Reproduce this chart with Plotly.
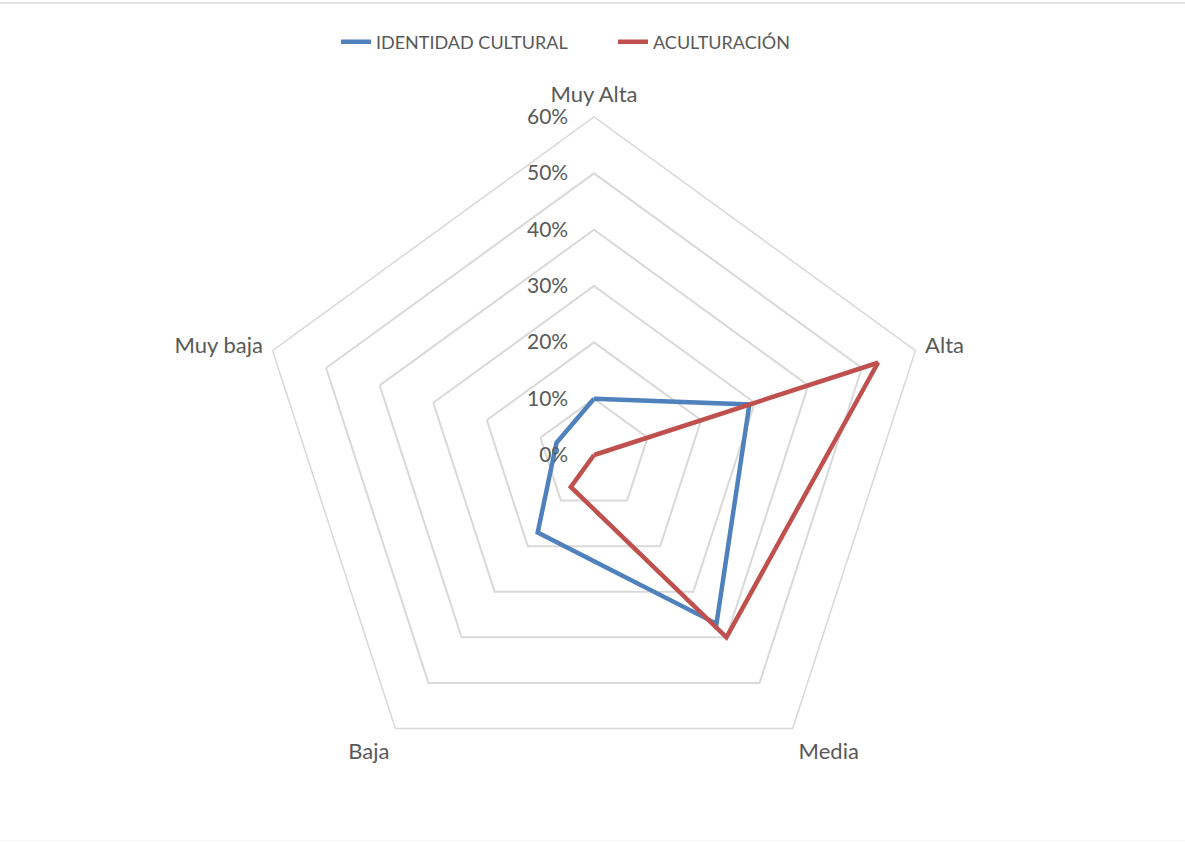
import plotly.graph_objects as go

categories = ["Muy Alta", "Alta", "Media", "Baja", "Muy baja"]
identidad = [0.10, 0.29, 0.37, 0.17, 0.07]
aculturacion = [0.00, 0.53, 0.40, 0.07, 0.00]
series_names = ["IDENTIDAD CULTURAL", "ACULTURACIÓN"]
radial_ticks = [0, 0.1, 0.2, 0.3, 0.4, 0.5, 0.6]

FONT = "Lato, Carlito, Calibri, sans-serif"
GRAY = "#595959"
GRID = "#d9d9d9"

W, H = 1185, 843
cx, cy, R = 594, 455, 338

fig = go.Figure()
for name, vals, color in [(series_names[0], identidad, "#4f81bd"),
                          (series_names[1], aculturacion, "#c0504d")]:
    fig.add_trace(go.Scatterpolar(
        r=vals + vals[:1],
        theta=categories + categories[:1],
        mode="lines",
        name=name,
        line=dict(color=color, width=4.5),
    ))

fig.update_layout(
    width=W, height=H,
    margin=dict(l=0, r=0, t=0, b=0),
    paper_bgcolor="white",
    font=dict(family=FONT, color=GRAY, size=20),
    showlegend=True,
    legend=dict(orientation="h", x=336 / W, xanchor="left", y=1 - 42 / H, yanchor="middle",
                font=dict(size=18, color=GRAY), entrywidth=232, entrywidthmode="pixels"),
    polar=dict(
        domain=dict(x=[(cx - R) / W, (cx + R) / W], y=[(H - cy - R) / H, (H - cy + R) / H]),
        bgcolor="white",
        gridshape="linear",
        radialaxis=dict(range=[0, 0.6], tickvals=radial_ticks, tickformat=".0%",
                        showline=False, gridcolor=GRID, gridwidth=1.5, angle=90,
                        tickangle=90, side="counterclockwise", ticks="outside",
                        ticklen=18, tickcolor="rgba(0,0,0,0)",
                        tickfont=dict(size=21, color=GRAY)),
        angularaxis=dict(direction="clockwise", rotation=90, showgrid=False,
                         linecolor=GRID, linewidth=1.5, ticks="outside", ticklen=5,
                         tickcolor="rgba(0,0,0,0)", tickfont=dict(size=22, color=GRAY)),
    ),
    shapes=[
        dict(type="line", xref="paper", yref="paper", x0=0, x1=1, y0=1 - 3 / H, y1=1 - 3 / H,
             line=dict(color=GRID, width=1.5)),
        dict(type="line", xref="paper", yref="paper", x0=0, x1=1, y0=2 / H, y1=2 / H,
             line=dict(color="#f0f0f0", width=1)),
    ],
)

fig.write_html("out.html", config={"displayModeBar": False},
               post_script="document.body.style.margin='0';")
